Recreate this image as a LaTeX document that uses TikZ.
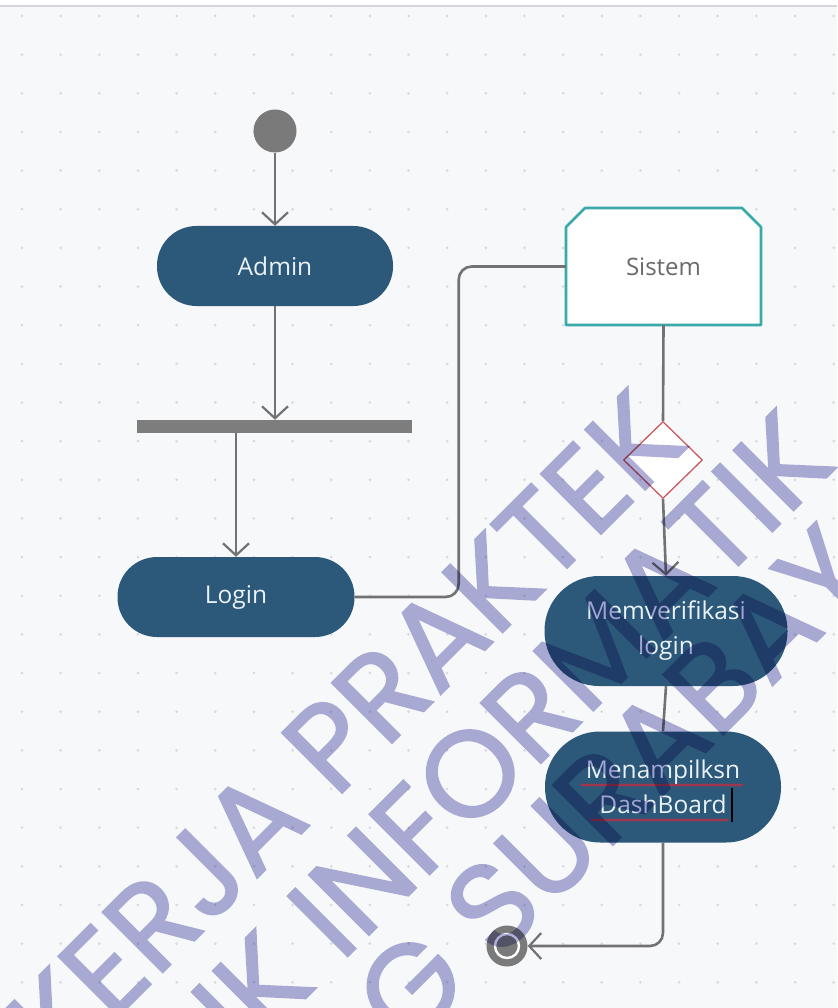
\documentclass[tikz,border=0pt]{standalone}
\usepackage{fontspec}
\setmainfont{Open Sans}
\newfontfamily\wmfont{Poppins}[FakeBold=1.5]
\usetikzlibrary{arrows.meta,calc,shapes.geometric,decorations.pathmorphing}

\definecolor{bgpage}{HTML}{F7F8FA}
\definecolor{topline}{HTML}{D6D6DA}
\definecolor{griddot}{HTML}{D9DAE0}
\definecolor{nodefill}{HTML}{2C587A}
\definecolor{nodetext}{HTML}{EAF2F7}
\definecolor{flow}{HTML}{727272}
\definecolor{barfill}{HTML}{7D7D7D}
\definecolor{markgray}{HTML}{7A7A7A}
\definecolor{sysline}{HTML}{3BA9A9}
\definecolor{systext}{HTML}{6A6A6A}
\definecolor{decisionred}{HTML}{C75B5E}
\definecolor{spellred}{HTML}{A8344A}
\definecolor{watermark}{HTML}{AEAED8}

\begin{document}
\begin{tikzpicture}[x=1pt,y=-1pt,
  action/.style={fill=nodefill, text=nodetext, align=center, inner sep=0pt,
    font=\fontsize{24.5}{35}\selectfont},
  flowline/.style={draw=flow, line width=2.6pt},
  flowarrow/.style={flowline, -{Straight Barb[length=12pt, width=26pt, line width=2.2pt]}},
  spellmark/.style={draw=spellred, line width=1.8pt, decorate,
    decoration={snake, amplitude=0.6pt, segment length=4pt}},
  wmtext/.style={text=watermark, inner sep=0pt, rotate=45, anchor=base west,
    font=\wmfont\fontsize{122}{122}\selectfont}]

% canvas
\useasboundingbox (0,0) rectangle (837,1008);
\clip (0,0) rectangle (837,1008);
\fill[bgpage] (0,0) rectangle (837,1008);
\fill[white] (0,0) rectangle (837,5);
\draw[topline, line width=2pt] (0,6) -- (837,6);

% dotted grid
\foreach \i in {0,...,21}
  \foreach \j in {0,...,25}
    \fill[griddot] (22+38.65*\i, 16+38.65*\j) circle (1.5pt);

% start and end markers
\node[circle, fill=markgray, minimum size=43pt, inner sep=0pt] (start) at (275,131) {};
\node[circle, fill=markgray, minimum size=41pt, inner sep=0pt] (end) at (507,946) {};
\draw[white, line width=2.4pt] (end.center) circle (12pt);

% actions
\node[action, minimum width=236pt, minimum height=80pt, rounded corners=39.5pt] (admin) at (275,266) {Admin};
\node[fill=barfill, minimum width=275pt, minimum height=13pt, inner sep=0pt] (fork) at (274.5,426.5) {};
\node[action, minimum width=237pt, minimum height=80pt, rounded corners=39.5pt] (login) at (236,597) {Login};

% system box with chamfered top corners
\path[fill=white, draw=sysline, line width=2.6pt, line join=round]
  (566,325) -- (566,227) -- (585,208) -- (742,208) -- (761,227) -- (761,325) -- cycle;
\node[minimum width=195pt, minimum height=117pt, inner sep=0pt, text=systext,
  font=\fontsize{24}{30}\selectfont] (sistem) at (663.5,266.5) {Sistem};

\node[diamond, draw=decisionred, fill=white, line width=1.3pt, minimum width=79pt,
  minimum height=77pt, inner sep=0pt] (dec) at (663,460) {};

\node[action, minimum width=243pt, minimum height=110pt, rounded corners=54.5pt] (verify) at (666,631) {Memverifikasi\\login};
\node[action, minimum width=236pt, minimum height=111pt, rounded corners=55pt] (dash) at (663,787) {Menampilksn\\DashBoard};

% spell-check marks and text cursor
\draw[spellmark] ($(dash.center)+(-82,-2)$) -- ($(dash.center)+(80,-2)$);
\draw[spellmark] ($(dash.center)+(-72,33)$) -- ($(dash.center)+(65,33)$);
\draw[black, line width=1.2pt] ($(dash.center)+(69,1)$) -- ($(dash.center)+(69,35)$);

% flows
\draw[flowarrow] (start) -- (admin);
\draw[flowarrow] (admin.south) -- (admin.south |- fork.north);
\draw[flowarrow] (fork.south -| login.north) -- (login.north);
\draw[flowline, rounded corners=13pt] (login.east) -- ++(104,0) |- (sistem.west);
\draw[flowline] (sistem.south) -- (dec.north);
\draw[flowarrow] (dec.south) -- (verify.north);
\draw[flowline] (verify.south) -- (dash.north);
\draw[flowarrow, rounded corners=13pt] (dash.south) |- (end.east);

% watermark, composited as one group and multiplied onto the diagram
\begin{scope}[blend mode=multiply]
\begin{scope}[transparency group]
\node[wmtext] (wmA) at (60,1075) {KERJA PRAKTEK};
\node[wmtext] (wmB) at (245,1059) {IK INFORMATIK};
\node[wmtext] (wmC) at (407,1051) {G SURABAYA};
\end{scope}
\end{scope}
\end{tikzpicture}
\end{document}
